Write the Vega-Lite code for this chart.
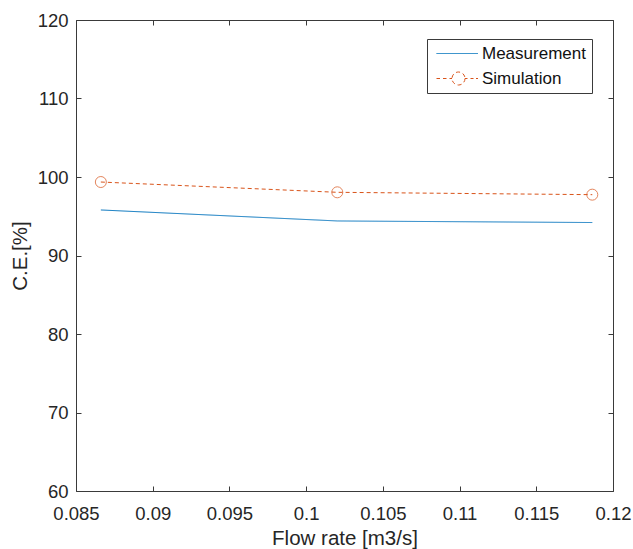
{
  "$schema": "https://vega.github.io/schema/vega-lite/v6.json",
  "width": 537,
  "height": 471,
  "autosize": {"type": "none"},
  "padding": {"left": 76, "top": 20, "right": 20, "bottom": 58},
  "background": "white",
  "config": {
    "font": "Liberation Sans",
    "view": {"stroke": "#3a3a3a", "strokeWidth": 1},
    "axis": {
      "grid": false,
      "domain": false,
      "tickColor": "#3a3a3a",
      "tickSize": -5,
      "tickWidth": 1,
      "labelColor": "#262626",
      "labelFontSize": 18.5,
      "labelFont": "Liberation Sans",
      "titleColor": "#262626",
      "titleFont": "Liberation Sans",
      "titleFontSize": 20.5,
      "titleFontWeight": "normal"
    }
  },
  "data": {
    "values": [
      {"x": 0.08662, "y": 95.8, "series": "Measurement"},
      {"x": 0.10203, "y": 94.4, "series": "Measurement"},
      {"x": 0.11865, "y": 94.2, "series": "Measurement"},
      {"x": 0.08662, "y": 99.36, "series": "Simulation"},
      {"x": 0.10203, "y": 98.05, "series": "Simulation"},
      {"x": 0.11865, "y": 97.75, "series": "Simulation"}
    ]
  },
  "resolve": {"axis": {"x": "independent", "y": "independent"}},
  "layer": [
    {
      "mark": {"type": "line", "strokeWidth": 1},
      "encoding": {
        "x": {
          "field": "x", "type": "quantitative",
          "scale": {"domain": [0.085, 0.12], "nice": false, "zero": false},
          "axis": {"title": "Flow rate [m3/s]", "values": [0.085, 0.09, 0.095, 0.1, 0.105, 0.11, 0.115, 0.12], "format": ".3~f", "labelPadding": 18, "titlePadding": 6, "labelFlush": false, "labelOverlap": false}
        },
        "y": {
          "field": "y", "type": "quantitative",
          "scale": {"domain": [60, 120], "nice": false, "zero": false},
          "axis": {"title": "C.E.[%]", "values": [60, 70, 80, 90, 100, 110, 120], "labelPadding": 13, "titlePadding": 7, "labelFlush": false, "labelOverlap": false}
        },
        "color": {
          "field": "series", "type": "nominal",
          "scale": {"domain": ["Measurement", "Simulation"], "range": ["#0072BD", "#D95319"]},
          "legend": {
            "title": null,
            "orient": "none",
            "legendX": 351,
            "legendY": 19,
            "fillColor": "white",
            "strokeColor": "#3a3a3a",
            "padding": 6,
            "labelFontSize": 17,
            "labelColor": "#111111",
            "labelOffset": 32,
            "symbolSize": 100,
            "symbolStrokeWidth": 1,
            "rowPadding": 7,
            "encode": {
              "symbols": {
                "update": {
                  "shape": {"signal": "datum.value === 'Simulation' ? 'M-1,0L-0.3,0M0.3,0L1,0M1.6,0L2.1,0M4.7,0L5.2,0M5.8,0L6.4,0M6.9,0L7.3,0M4.7,0A1.3,1.3,0,1,1,2.1,0A1.3,1.3,0,1,1,4.7,0Z' : 'M-1,0L7.3,0'"},
                  "fill": {"value": "transparent"}
                }
              }
            }
          }
        },
        "strokeDash": {
          "field": "series", "type": "nominal",
          "scale": {"domain": ["Measurement", "Simulation"], "range": [[1, 0], [4, 3]]},
          "legend": null
        }
      }
    },
    {
      "mark": {"type": "point", "shape": "circle", "filled": false, "size": 121, "strokeWidth": 1, "color": "#D95319"},
      "transform": [{"filter": "datum.series === 'Simulation'"}],
      "encoding": {
        "x": {"field": "x", "type": "quantitative", "axis": {"orient": "top", "labels": false, "title": null, "values": [0.085, 0.09, 0.095, 0.1, 0.105, 0.11, 0.115, 0.12]}},
        "y": {"field": "y", "type": "quantitative", "axis": {"orient": "right", "labels": false, "title": null, "values": [60, 70, 80, 90, 100, 110, 120]}}
      }
    }
  ]
}
